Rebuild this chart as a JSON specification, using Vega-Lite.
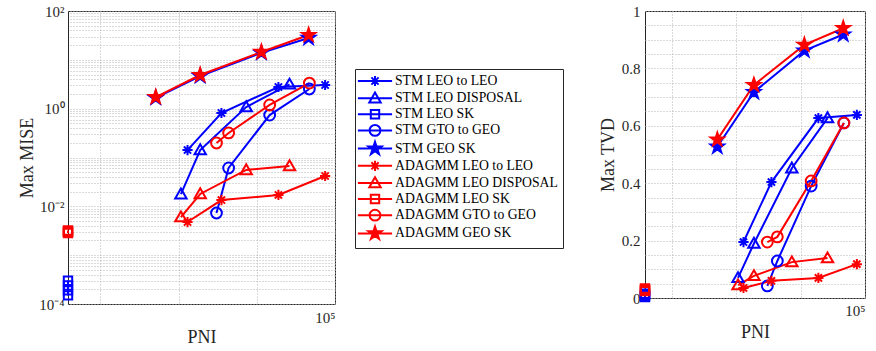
{
  "$schema": "https://vega.github.io/schema/vega-lite/v6.json",
  "padding": {"left": 18, "top": 3, "right": 0, "bottom": 0},
  "background": "white",
  "config": {
    "font": "Liberation Serif",
    "view": {"stroke": "#262626", "strokeWidth": 1},
    "axis": {
      "labelFont": "Liberation Serif", "titleFont": "Liberation Serif",
      "labelFontSize": 15, "titleFontSize": 18, "titleFontWeight": "normal",
      "labelColor": "#262626", "titleColor": "#262626",
      "domain": false, "ticks": false,
      "gridColor": "#b4b4b4", "gridDash": [1, 2], "gridWidth": 1
    }
  },
  "datasets": {
    "d": [
      {"s": "STM LEO to LEO", "i": 0, "x": 1300, "mise": 0.142, "tvd": 0.195},
      {"s": "STM LEO to LEO", "i": 1, "x": 3530, "mise": 0.815, "tvd": 0.404},
      {"s": "STM LEO to LEO", "i": 2, "x": 18900, "mise": 2.78, "tvd": 0.627},
      {"s": "STM LEO to LEO", "i": 3, "x": 74800, "mise": 3.05, "tvd": 0.638},
      {"s": "STM LEO DISPOSAL", "i": 0, "x": 1070, "mise": 0.0177, "tvd": 0.07},
      {"s": "STM LEO DISPOSAL", "i": 1, "x": 1890, "mise": 0.142, "tvd": 0.19},
      {"s": "STM LEO DISPOSAL", "i": 2, "x": 7320, "mise": 1.08, "tvd": 0.452},
      {"s": "STM LEO DISPOSAL", "i": 3, "x": 26200, "mise": 3.15, "tvd": 0.627},
      {"s": "STM LEO SK", "i": 0, "x": 38.5, "mise": 0.0003, "tvd": 0.003},
      {"s": "STM LEO SK", "i": 1, "x": 38.5, "mise": 0.00024, "tvd": 0.007},
      {"s": "STM LEO SK", "i": 2, "x": 38.5, "mise": 0.00019, "tvd": 0.011},
      {"s": "STM LEO SK", "i": 3, "x": 38.5, "mise": 0.00015, "tvd": 0.015},
      {"s": "STM GTO to GEO", "i": 0, "x": 3050, "mise": 0.0073, "tvd": 0.042},
      {"s": "STM GTO to GEO", "i": 1, "x": 4360, "mise": 0.061, "tvd": 0.129},
      {"s": "STM GTO to GEO", "i": 2, "x": 14600, "mise": 0.74, "tvd": 0.39},
      {"s": "STM GTO to GEO", "i": 3, "x": 47000, "mise": 2.53, "tvd": 0.61},
      {"s": "STM GEO SK", "i": 0, "x": 510, "mise": 1.66, "tvd": 0.527},
      {"s": "STM GEO SK", "i": 1, "x": 1886, "mise": 4.65, "tvd": 0.717},
      {"s": "STM GEO SK", "i": 2, "x": 11450, "mise": 13.9, "tvd": 0.862},
      {"s": "STM GEO SK", "i": 3, "x": 46000, "mise": 28.0, "tvd": 0.918},
      {"s": "ADAGMM LEO to LEO", "i": 0, "x": 1300, "mise": 0.00477, "tvd": 0.035},
      {"s": "ADAGMM LEO to LEO", "i": 1, "x": 3530, "mise": 0.01345, "tvd": 0.06},
      {"s": "ADAGMM LEO to LEO", "i": 2, "x": 18900, "mise": 0.0171, "tvd": 0.07},
      {"s": "ADAGMM LEO to LEO", "i": 3, "x": 74800, "mise": 0.0418, "tvd": 0.118},
      {"s": "ADAGMM LEO DISPOSAL", "i": 0, "x": 1070, "mise": 0.006, "tvd": 0.045},
      {"s": "ADAGMM LEO DISPOSAL", "i": 1, "x": 1890, "mise": 0.0179, "tvd": 0.077},
      {"s": "ADAGMM LEO DISPOSAL", "i": 2, "x": 7320, "mise": 0.0555, "tvd": 0.125},
      {"s": "ADAGMM LEO DISPOSAL", "i": 3, "x": 26200, "mise": 0.067, "tvd": 0.139},
      {"s": "ADAGMM LEO SK", "i": 0, "x": 38.5, "mise": 0.0030, "tvd": 0.024},
      {"s": "ADAGMM LEO SK", "i": 1, "x": 38.5, "mise": 0.0032, "tvd": 0.027},
      {"s": "ADAGMM LEO SK", "i": 2, "x": 38.5, "mise": 0.00285, "tvd": 0.03},
      {"s": "ADAGMM LEO SK", "i": 3, "x": 38.5, "mise": 0.00305, "tvd": 0.033},
      {"s": "ADAGMM GTO to GEO", "i": 0, "x": 3050, "mise": 0.198, "tvd": 0.195},
      {"s": "ADAGMM GTO to GEO", "i": 1, "x": 4360, "mise": 0.318, "tvd": 0.213},
      {"s": "ADAGMM GTO to GEO", "i": 2, "x": 14600, "mise": 1.19, "tvd": 0.408},
      {"s": "ADAGMM GTO to GEO", "i": 3, "x": 47000, "mise": 3.35, "tvd": 0.61},
      {"s": "ADAGMM GEO SK", "i": 0, "x": 510, "mise": 1.73, "tvd": 0.552},
      {"s": "ADAGMM GEO SK", "i": 1, "x": 1886, "mise": 4.89, "tvd": 0.742},
      {"s": "ADAGMM GEO SK", "i": 2, "x": 11450, "mise": 14.5, "tvd": 0.882},
      {"s": "ADAGMM GEO SK", "i": 3, "x": 46000, "mise": 32.2, "tvd": 0.94}
    ]
  },
  "bounds": "flush",
  "spacing": 310,
  "hconcat": [
    {
      "width": 267, "height": 293,
      "data": {"name": "d"},
      "resolve": {"axis": {"y": "independent"}, "scale": {"stroke": "independent", "fill": "independent", "shape": "independent"}},
      "layer": [
        {
          "mark": {"type": "line", "strokeWidth": 2, "clip": false},
          "encoding": {
            "x": {"field": "x", "type": "quantitative",
              "scale": {"type": "log", "domain": [38.5, 100000], "nice": false},
              "axis": {"values": [100, 1000, 10000, 100000], "labelExpr": "datum.value > 50000 ? '10⁵' : ''", "title": "PNI", "grid": true, "labelPadding": 6, "titlePadding": 3}},
            "y": {"field": "mise", "type": "quantitative",
              "scale": {"type": "log", "domain": [0.0001, 100], "nice": false},
              "axis": {"values": [0.0001, 0.01, 1, 100], "labelExpr": "datum.value < 0.001 ? '10⁻⁴' : datum.value < 0.1 ? '10⁻²' : datum.value < 10 ? '10⁰' : '10²'", "title": "Max MISE", "grid": false, "labelPadding": 4, "titlePadding": 2}},
            "stroke": {"field": "s", "type": "nominal",
              "scale": {"domain": ["STM LEO to LEO", "STM LEO DISPOSAL", "STM LEO SK", "STM GTO to GEO", "STM GEO SK", "ADAGMM LEO to LEO", "ADAGMM LEO DISPOSAL", "ADAGMM LEO SK", "ADAGMM GTO to GEO", "ADAGMM GEO SK"],
                "range": ["#0000ff", "#0000ff", "#0000ff", "#0000ff", "#0000ff", "#ff0000", "#ff0000", "#ff0000", "#ff0000", "#ff0000"]},
              "legend": null},
            "detail": {"field": "s", "type": "nominal"},
            "order": {"field": "i", "type": "quantitative"}
          }
        },
        {
          "mark": {"type": "point", "filled": true, "strokeWidth": 2, "size": 144, "opacity": 1, "clip": false},
          "encoding": {
            "x": {"field": "x", "type": "quantitative"},
            "y": {"field": "mise", "type": "quantitative",
              "axis": {"orient": "right", "values": [0.0001,0.0002,0.0003,0.0004,0.0005,0.0006,0.0007,0.0008,0.0009,0.001,0.002,0.003,0.004,0.005,0.006,0.007,0.008,0.009,0.01,0.02,0.03,0.04,0.05,0.06,0.07,0.08,0.09,0.1,0.2,0.3,0.4,0.5,0.6,0.7,0.8,0.9,1,2,3,4,5,6,7,8,9,10,20,30,40,50,60,70,80,90,100], "labels": false, "title": null, "grid": true}},
            "stroke": {"field": "s", "type": "nominal",
              "scale": {"domain": ["STM LEO to LEO", "STM LEO DISPOSAL", "STM LEO SK", "STM GTO to GEO", "STM GEO SK", "ADAGMM LEO to LEO", "ADAGMM LEO DISPOSAL", "ADAGMM LEO SK", "ADAGMM GTO to GEO", "ADAGMM GEO SK"],
                "range": ["#0000ff", "#0000ff", "#0000ff", "#0000ff", "#0000ff", "#ff0000", "#ff0000", "#ff0000", "#ff0000", "#ff0000"]},
              "legend": null},
            "fill": {"field": "s", "type": "nominal",
              "scale": {"domain": ["STM LEO to LEO", "STM LEO DISPOSAL", "STM LEO SK", "STM GTO to GEO", "STM GEO SK", "ADAGMM LEO to LEO", "ADAGMM LEO DISPOSAL", "ADAGMM LEO SK", "ADAGMM GTO to GEO", "ADAGMM GEO SK"],
                "range": ["transparent", "transparent", "transparent", "transparent", "#0000ff", "transparent", "transparent", "transparent", "transparent", "#ff0000"]},
              "legend": null},
            "shape": {"field": "s", "type": "nominal",
              "scale": {"domain": ["STM LEO to LEO", "STM LEO DISPOSAL", "STM LEO SK", "STM GTO to GEO", "STM GEO SK", "ADAGMM LEO to LEO", "ADAGMM LEO DISPOSAL", "ADAGMM LEO SK", "ADAGMM GTO to GEO", "ADAGMM GEO SK"],
                "range": [
                  "M-0.85,0L0.85,0M0,-0.85L0,0.85M-0.6,-0.6L0.6,0.6M-0.6,0.6L0.6,-0.6",
                  "M0,-0.95L0.95,0.7L-0.95,0.7Z",
                  "M-0.7,-0.7L0.7,-0.7L0.7,0.7L-0.7,0.7Z",
                  "M0.9,0A0.9,0.9,0,1,1,-0.9,0A0.9,0.9,0,1,1,0.9,0Z",
                  "M0,-1.15L0.2587,-0.356L1.0937,-0.3554L0.4185,0.136L0.676,0.9304L0,0.44L-0.676,0.9304L-0.4185,0.136L-1.0937,-0.3554L-0.2587,-0.356Z",
                  "M-0.85,0L0.85,0M0,-0.85L0,0.85M-0.6,-0.6L0.6,0.6M-0.6,0.6L0.6,-0.6",
                  "M0,-0.95L0.95,0.7L-0.95,0.7Z",
                  "M-0.7,-0.7L0.7,-0.7L0.7,0.7L-0.7,0.7Z",
                  "M0.9,0A0.9,0.9,0,1,1,-0.9,0A0.9,0.9,0,1,1,0.9,0Z",
                  "M0,-1.15L0.2587,-0.356L1.0937,-0.3554L0.4185,0.136L0.676,0.9304L0,0.44L-0.676,0.9304L-0.4185,0.136L-1.0937,-0.3554L-0.2587,-0.356Z"
                ]},
              "legend": null}
          }
        },
        {
          "transform": [{"filter": "false"}],
          "mark": {"type": "point", "filled": true, "strokeWidth": 2, "size": 144, "opacity": 1, "clip": false},
          "encoding": {
            "x": {"field": "x", "type": "quantitative"},
            "y": {"field": "mise", "type": "quantitative", "axis": null},
            "stroke": {"field": "s", "type": "nominal",
              "scale": {"domain": ["STM LEO to LEO", "STM LEO DISPOSAL", "STM LEO SK", "STM GTO to GEO", "STM GEO SK", "ADAGMM LEO to LEO", "ADAGMM LEO DISPOSAL", "ADAGMM LEO SK", "ADAGMM GTO to GEO", "ADAGMM GEO SK"],
                "range": ["#0000ff", "#0000ff", "#0000ff", "#0000ff", "#0000ff", "#ff0000", "#ff0000", "#ff0000", "#ff0000", "#ff0000"]}},
            "fill": {"field": "s", "type": "nominal",
              "scale": {"domain": ["STM LEO to LEO", "STM LEO DISPOSAL", "STM LEO SK", "STM GTO to GEO", "STM GEO SK", "ADAGMM LEO to LEO", "ADAGMM LEO DISPOSAL", "ADAGMM LEO SK", "ADAGMM GTO to GEO", "ADAGMM GEO SK"],
                "range": ["transparent", "transparent", "transparent", "transparent", "#0000ff", "transparent", "transparent", "transparent", "transparent", "#ff0000"]}},
            "shape": {"field": "s", "type": "nominal",
              "scale": {"domain": ["STM LEO to LEO", "STM LEO DISPOSAL", "STM LEO SK", "STM GTO to GEO", "STM GEO SK", "ADAGMM LEO to LEO", "ADAGMM LEO DISPOSAL", "ADAGMM LEO SK", "ADAGMM GTO to GEO", "ADAGMM GEO SK"],
                "range": [
                  "M-2.85,0L2.85,0M-0.85,0L0.85,0M0,-0.85L0,0.85M-0.6,-0.6L0.6,0.6M-0.6,0.6L0.6,-0.6",
                  "M-2.85,0L2.85,0M0,-0.95L0.95,0.7L-0.95,0.7Z",
                  "M-2.85,0L2.85,0M-0.7,-0.7L0.7,-0.7L0.7,0.7L-0.7,0.7Z",
                  "M-2.85,0L2.85,0M0.9,0A0.9,0.9,0,1,1,-0.9,0A0.9,0.9,0,1,1,0.9,0Z",
                  "M-2.85,0L2.85,0M0,-1.15L0.2587,-0.356L1.0937,-0.3554L0.4185,0.136L0.676,0.9304L0,0.44L-0.676,0.9304L-0.4185,0.136L-1.0937,-0.3554L-0.2587,-0.356Z",
                  "M-2.85,0L2.85,0M-0.85,0L0.85,0M0,-0.85L0,0.85M-0.6,-0.6L0.6,0.6M-0.6,0.6L0.6,-0.6",
                  "M-2.85,0L2.85,0M0,-0.95L0.95,0.7L-0.95,0.7Z",
                  "M-2.85,0L2.85,0M-0.7,-0.7L0.7,-0.7L0.7,0.7L-0.7,0.7Z",
                  "M-2.85,0L2.85,0M0.9,0A0.9,0.9,0,1,1,-0.9,0A0.9,0.9,0,1,1,0.9,0Z",
                  "M-2.85,0L2.85,0M0,-1.15L0.2587,-0.356L1.0937,-0.3554L0.4185,0.136L0.676,0.9304L0,0.44L-0.676,0.9304L-0.4185,0.136L-1.0937,-0.3554L-0.2587,-0.356Z"
                ]},
              "legend": {
                "orient": "none", "legendX": 287, "legendY": 58,
                "title": null,
                "symbolSize": 144, "symbolStrokeWidth": 2, "symbolOpacity": 1,
                "labelFont": "Liberation Serif", "labelFontSize": 13.7, "labelColor": "#000000", "labelLimit": 400,
                "padding": 5, "strokeColor": "#262626", "fillColor": "#ffffff",
                "symbolOffset": 8, "labelOffset": 13, "rowPadding": -2.8
              }
            }
          }
        }
      ]
    },
    {
      "width": 220, "height": 287,
      "data": {"name": "d"},
      "resolve": {"axis": {"y": "independent"}},
      "layer": [
        {
          "mark": {"type": "line", "strokeWidth": 2, "clip": false},
          "encoding": {
            "x": {"field": "x", "type": "quantitative",
              "scale": {"type": "log", "domain": [38.5, 100000], "nice": false},
              "axis": {"values": [100, 1000, 10000, 100000], "labelExpr": "datum.value > 50000 ? '10⁵' : ''", "title": "PNI", "grid": true, "labelPadding": 5, "titlePadding": 5}},
            "y": {"field": "tvd", "type": "quantitative",
              "scale": {"domain": [0, 1], "nice": false, "zero": false},
              "axis": {"values": [0, 0.2, 0.4, 0.6, 0.8, 1], "format": "~g", "title": "Max TVD", "grid": false, "labelPadding": 5, "titlePadding": 4}},
            "stroke": {"field": "s", "type": "nominal",
              "scale": {"domain": ["STM LEO to LEO", "STM LEO DISPOSAL", "STM LEO SK", "STM GTO to GEO", "STM GEO SK", "ADAGMM LEO to LEO", "ADAGMM LEO DISPOSAL", "ADAGMM LEO SK", "ADAGMM GTO to GEO", "ADAGMM GEO SK"],
                "range": ["#0000ff", "#0000ff", "#0000ff", "#0000ff", "#0000ff", "#ff0000", "#ff0000", "#ff0000", "#ff0000", "#ff0000"]},
              "legend": null},
            "detail": {"field": "s", "type": "nominal"},
            "order": {"field": "i", "type": "quantitative"}
          }
        },
        {
          "mark": {"type": "point", "filled": true, "strokeWidth": 2, "size": 144, "opacity": 1, "clip": false},
          "encoding": {
            "x": {"field": "x", "type": "quantitative"},
            "y": {"field": "tvd", "type": "quantitative",
              "axis": {"orient": "right", "values": [0,0.05,0.1,0.15,0.2,0.25,0.3,0.35,0.4,0.45,0.5,0.55,0.6,0.65,0.7,0.75,0.8,0.85,0.9,0.95,1], "labels": false, "title": null, "grid": true}},
            "stroke": {"field": "s", "type": "nominal", "legend": null},
            "fill": {"field": "s", "type": "nominal",
              "scale": {"domain": ["STM LEO to LEO", "STM LEO DISPOSAL", "STM LEO SK", "STM GTO to GEO", "STM GEO SK", "ADAGMM LEO to LEO", "ADAGMM LEO DISPOSAL", "ADAGMM LEO SK", "ADAGMM GTO to GEO", "ADAGMM GEO SK"],
                "range": ["transparent", "transparent", "transparent", "transparent", "#0000ff", "transparent", "transparent", "transparent", "transparent", "#ff0000"]},
              "legend": null},
            "shape": {"field": "s", "type": "nominal",
              "scale": {"domain": ["STM LEO to LEO", "STM LEO DISPOSAL", "STM LEO SK", "STM GTO to GEO", "STM GEO SK", "ADAGMM LEO to LEO", "ADAGMM LEO DISPOSAL", "ADAGMM LEO SK", "ADAGMM GTO to GEO", "ADAGMM GEO SK"],
                "range": [
                  "M-0.85,0L0.85,0M0,-0.85L0,0.85M-0.6,-0.6L0.6,0.6M-0.6,0.6L0.6,-0.6",
                  "M0,-0.95L0.95,0.7L-0.95,0.7Z",
                  "M-0.7,-0.7L0.7,-0.7L0.7,0.7L-0.7,0.7Z",
                  "M0.9,0A0.9,0.9,0,1,1,-0.9,0A0.9,0.9,0,1,1,0.9,0Z",
                  "M0,-1.15L0.2587,-0.356L1.0937,-0.3554L0.4185,0.136L0.676,0.9304L0,0.44L-0.676,0.9304L-0.4185,0.136L-1.0937,-0.3554L-0.2587,-0.356Z",
                  "M-0.85,0L0.85,0M0,-0.85L0,0.85M-0.6,-0.6L0.6,0.6M-0.6,0.6L0.6,-0.6",
                  "M0,-0.95L0.95,0.7L-0.95,0.7Z",
                  "M-0.7,-0.7L0.7,-0.7L0.7,0.7L-0.7,0.7Z",
                  "M0.9,0A0.9,0.9,0,1,1,-0.9,0A0.9,0.9,0,1,1,0.9,0Z",
                  "M0,-1.15L0.2587,-0.356L1.0937,-0.3554L0.4185,0.136L0.676,0.9304L0,0.44L-0.676,0.9304L-0.4185,0.136L-1.0937,-0.3554L-0.2587,-0.356Z"
                ]},
              "legend": null}
          }
        }
      ]
    }
  ]
}
